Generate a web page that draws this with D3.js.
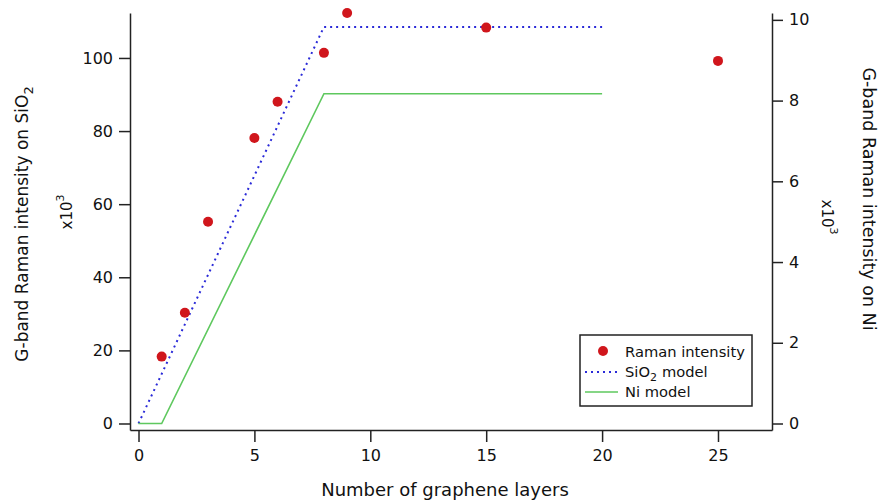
<!DOCTYPE html>
<html><head><meta charset="utf-8">
<script src="https://cdn.jsdelivr.net/npm/d3@7"></script>
<style>body{margin:0;background:#fff}svg{display:block}text{font-family:"DejaVu Sans",sans-serif;fill:#111}</style>
</head><body><svg id="c" width="878" height="502"></svg>
<script>
const layers = [1, 2, 3, 5, 6, 8, 9, 15, 25];
const ramanIntensity = [18.3, 30.3, 55.2, 78.1, 88, 101.4, 112.3, 108.3, 99.2];
const sio2ModelX = [0, 8, 20];
const sio2ModelY = [0, 108.5, 108.5];
const niModelX = [0, 1, 8, 20];
const niModelY = [0, 0, 8.17, 8.17];
const xTicks = [0, 5, 10, 15, 20, 25];
const leftTicks = [0, 20, 40, 60, 80, 100];
const rightTicks = [0, 2, 4, 6, 8, 10];

const svg = d3.select("#c");
const L = 130, R = 772, T = 13, B = 430;
const x = d3.scaleLinear().domain([-0.367, 27.33]).range([L, R]);
const yL = d3.scaleLinear().domain([-1.78, 112.3]).range([B, T]);
const yR = d3.scaleLinear().domain([-0.161, 10.17]).range([B, T]);

const axB = svg.append("g").attr("transform", `translate(0,${B})`)
  .call(d3.axisBottom(x).tickValues(xTicks).tickSize(12).tickPadding(8).tickSizeOuter(0));
const axL = svg.append("g").attr("transform", `translate(${L},0)`)
  .call(d3.axisLeft(yL).tickValues(leftTicks).tickSize(11).tickPadding(6).tickSizeOuter(0));
const axR = svg.append("g").attr("transform", `translate(${R},0)`)
  .call(d3.axisRight(yR).tickValues(rightTicks).tickSize(11).tickPadding(6).tickSizeOuter(0));
[axB, axL, axR].forEach(a => {
  a.selectAll("path,line").attr("stroke", "#222").attr("stroke-width", 1.5);
  a.selectAll("text").attr("font-size", 16).attr("font-family", "DejaVu Sans").attr("fill", "#111");
});

const line = (ys) => d3.line().x(d => x(d[0])).y(d => ys(d[1]));
svg.append("path").datum(sio2ModelX.map((v, i) => [v, sio2ModelY[i]]))
  .attr("d", line(yL)).attr("fill", "none").attr("stroke", "#2a2ad8")
  .attr("stroke-width", 2).attr("stroke-dasharray", "2,4");
svg.append("path").datum(niModelX.map((v, i) => [v, niModelY[i]]))
  .attr("d", line(yR)).attr("fill", "none").attr("stroke", "#5ec85e").attr("stroke-width", 1.6);

svg.append("g").selectAll("circle").data(layers).join("circle")
  .attr("cx", d => x(d)).attr("cy", (d, i) => yL(ramanIntensity[i])).attr("r", 5)
  .attr("fill", "#d0161c");

// axis titles
svg.append("text").attr("x", 445).attr("y", 496).attr("text-anchor", "middle")
  .attr("font-size", 18).text("Number of graphene layers");
const lt = svg.append("text").attr("transform", "translate(28,224) rotate(-90)")
  .attr("text-anchor", "middle").attr("font-size", 17);
lt.append("tspan").text("G-band Raman intensity on SiO");
lt.append("tspan").attr("font-size", 13).attr("dy", 5).text("2");
const lx = svg.append("text").attr("transform", "translate(72,212) rotate(-90)")
  .attr("text-anchor", "middle").attr("font-size", 15);
lx.append("tspan").text("x10");
lx.append("tspan").attr("font-size", 11).attr("dy", -8).text("3");

svg.append("text").attr("transform", "translate(863,199) rotate(90)")
  .attr("text-anchor", "middle").attr("font-size", 17.5).text("G-band Raman intensity on Ni");
const rx = svg.append("text").attr("transform", "translate(822,217) rotate(90)")
  .attr("text-anchor", "middle").attr("font-size", 15);
rx.append("tspan").text("x10");
rx.append("tspan").attr("font-size", 11).attr("dy", -8).text("3");

// legend
const lg = svg.append("g");
lg.append("rect").attr("x", 580).attr("y", 335).attr("width", 172).attr("height", 71)
  .attr("fill", "#fff").attr("stroke", "#222").attr("stroke-width", 1.5);
lg.append("circle").attr("cx", 603).attr("cy", 351).attr("r", 5).attr("fill", "#d0161c");
lg.append("text").attr("x", 625).attr("y", 357).attr("font-size", 14.7).text("Raman intensity");
lg.append("line").attr("x1", 585).attr("x2", 618).attr("y1", 372).attr("y2", 372)
  .attr("stroke", "#2a2ad8").attr("stroke-width", 2).attr("stroke-dasharray", "2,4");
const t2 = lg.append("text").attr("x", 625).attr("y", 377).attr("font-size", 14.7);
t2.append("tspan").text("SiO");
t2.append("tspan").attr("font-size", 11).attr("dy", 4).text("2");
t2.append("tspan").attr("dy", -4).attr("dx", 5).text("model");
lg.append("line").attr("x1", 585).attr("x2", 618).attr("y1", 392).attr("y2", 392)
  .attr("stroke", "#5ec85e").attr("stroke-width", 1.6);
lg.append("text").attr("x", 625).attr("y", 397).attr("font-size", 14.7).text("Ni model");
</script></body></html>
